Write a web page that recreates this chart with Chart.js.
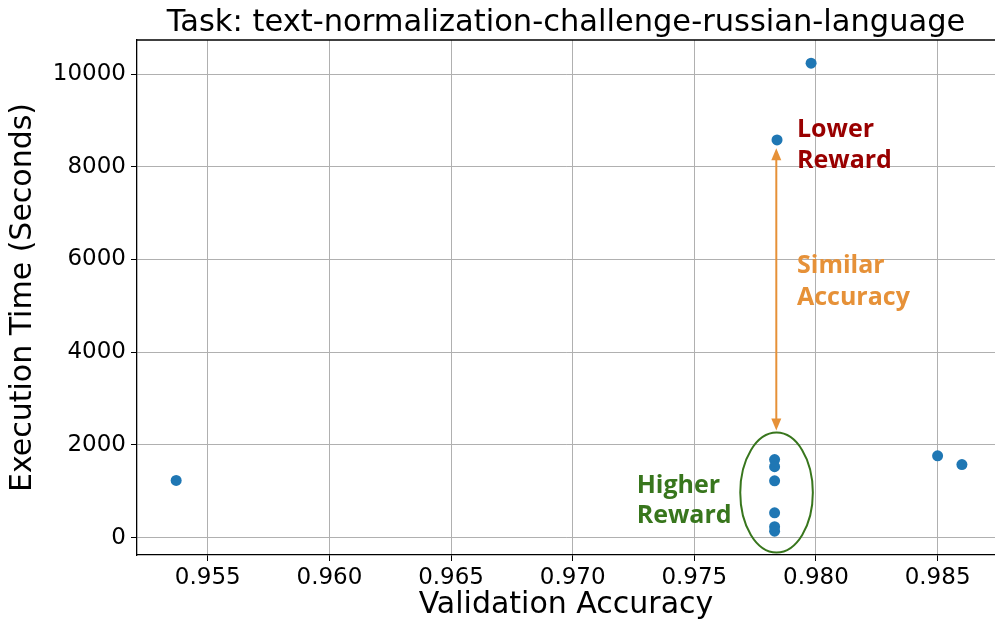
<!DOCTYPE html>
<html>
<head>
<meta charset="utf-8">
<script src="https://cdn.jsdelivr.net/npm/chart.js@4/dist/chart.umd.min.js"></script>
<style>
  html, body { margin: 0; padding: 0; background: #fff; }
  canvas { display: block; }
</style>
</head>
<body>
<canvas id="taskChart" width="995" height="628"></canvas>
<script>
// validation accuracy vs execution time, one point per run
const accuracy = [0.9537, 0.9798, 0.9784, 0.9783, 0.9783, 0.9783, 0.9783, 0.9783, 0.9783, 0.9850, 0.9860];
const execTime = [1235, 10235, 8580, 1685, 1530, 1225, 535, 235, 140, 1765, 1575];

const xTicks = [0.955, 0.960, 0.965, 0.970, 0.975, 0.980, 0.985];
const yTicks = [0, 2000, 4000, 6000, 8000, 10000];

const titleText = 'Task: text-normalization-challenge-russian-language';
const xLabel = 'Validation Accuracy';
const yLabel = 'Execution Time (Seconds)';

// annotation text, anchored in data coords
const notes = [
  { lines: ['Lower', 'Reward'], x: 0.97922, y: [8650, 7975], color: '#990000' },
  { lines: ['Similar', 'Accuracy'], x: 0.97922, y: [5709, 5019], color: '#e69138' },
  { lines: ['Higher', 'Reward'], x: 0.97263, y: [963, 315], color: '#38761d' }
];
const arrow = { x: 0.97837, yTop: 8400, yBottom: 2310, color: '#e69138' };
const ring = { x: 0.97838, y: 972, rx: 0.001492, ry: 1294, color: '#38761d' };

const points = accuracy.map((a, i) => ({ x: a, y: execTime[i] }));

const extras = {
  id: 'extras',
  afterDatasetsDraw(chart) {
    const { ctx, chartArea } = chart;
    const xs = chart.scales.x, ys = chart.scales.y;
    ctx.save();

    // top spine
    ctx.strokeStyle = '#000';
    ctx.lineWidth = 1.3;
    ctx.beginPath();
    ctx.moveTo(chartArea.left, chartArea.top);
    ctx.lineTo(chartArea.right, chartArea.top);
    ctx.stroke();

    // title
    ctx.fillStyle = '#000';
    ctx.font = '30.5px "DejaVu Sans"';
    ctx.textAlign = 'center';
    ctx.textBaseline = 'alphabetic';
    ctx.fillText(titleText, (chartArea.left + chartArea.right) / 2, 31);

    // ellipse round the cheap runs
    const cx = xs.getPixelForValue(ring.x), cy = ys.getPixelForValue(ring.y);
    const rx = Math.abs(xs.getPixelForValue(ring.x + ring.rx) - cx);
    const ry = Math.abs(ys.getPixelForValue(ring.y + ring.ry) - cy);
    ctx.strokeStyle = ring.color;
    ctx.lineWidth = 2;
    ctx.beginPath();
    ctx.ellipse(cx, cy, rx, ry, 0, 0, Math.PI * 2);
    ctx.stroke();

    // double headed arrow
    const ax = xs.getPixelForValue(arrow.x);
    const y1 = ys.getPixelForValue(arrow.yTop), y2 = ys.getPixelForValue(arrow.yBottom);
    ctx.strokeStyle = arrow.color;
    ctx.fillStyle = arrow.color;
    ctx.lineWidth = 2;
    ctx.beginPath();
    ctx.moveTo(ax, y1 + 8);
    ctx.lineTo(ax, y2 - 8);
    ctx.stroke();
    ctx.beginPath();
    ctx.moveTo(ax, y1); ctx.lineTo(ax - 5, y1 + 12); ctx.lineTo(ax + 5, y1 + 12); ctx.closePath();
    ctx.fill();
    ctx.beginPath();
    ctx.moveTo(ax, y2); ctx.lineTo(ax - 5, y2 - 12); ctx.lineTo(ax + 5, y2 - 12); ctx.closePath();
    ctx.fill();

    // labels
    ctx.font = 'bold 25px "Open Sans"';
    ctx.textAlign = 'left';
    notes.forEach(n => {
      ctx.fillStyle = n.color;
      n.lines.forEach((t, i) => {
        ctx.fillText(t, xs.getPixelForValue(n.x), ys.getPixelForValue(n.y[i]));
      });
    });
    ctx.restore();
  }
};

const config = {
  type: 'scatter',
  data: {
    datasets: [{
      data: points,
      backgroundColor: '#1f77b4',
      borderWidth: 0,
      pointRadius: 5.5,
      pointHoverRadius: 5.5
    }]
  },
  options: {
    responsive: false,
    animation: false,
    layout: { autoPadding: false, padding: { top: 40, left: 0, right: 0, bottom: 0 } },
    plugins: {
      legend: { display: false },
      tooltip: { enabled: false }
    },
    scales: {
      x: {
        type: 'linear',
        min: 0.95209,
        max: 0.98736,
        afterBuildTicks: s => { s.ticks = xTicks.map(v => ({ value: v })); },
        afterFit: s => { s.height = 73; s.paddingLeft = 0; s.paddingRight = 0; },
        ticks: {
          color: '#000',
          padding: 3,
          maxRotation: 0,
          autoSkip: false,
          font: { family: 'DejaVu Sans', size: 23 },
          callback: v => v.toFixed(3)
        },
        grid: { color: '#b0b0b0', lineWidth: 1, tickLength: 6, tickColor: '#000' },
        border: { display: true, color: '#000', width: 1.3 },
        title: {
          display: true,
          text: xLabel,
          color: '#000',
          font: { family: 'DejaVu Sans', size: 30 },
          padding: { top: 0, bottom: 5 }
        }
      },
      y: {
        type: 'linear',
        min: -375,
        max: 10736,
        afterBuildTicks: s => { s.ticks = yTicks.map(v => ({ value: v })); },
        afterFit: s => { s.width = 137; s.paddingTop = 0; s.paddingBottom = 0; },
        ticks: {
          color: '#000',
          padding: 5,
          autoSkip: false,
          font: { family: 'DejaVu Sans', size: 23 },
          callback: v => String(v)
        },
        grid: { color: '#b0b0b0', lineWidth: 1, tickLength: 6, tickColor: '#000' },
        border: { display: true, color: '#000', width: 1.3 },
        title: {
          display: true,
          text: yLabel,
          color: '#000',
          font: { family: 'DejaVu Sans', size: 30 },
          padding: { top: 5, bottom: 0 }
        }
      }
    }
  },
  plugins: [extras]
};

const taskChart = new Chart(document.getElementById('taskChart'), config);
</script>
</body>
</html>
